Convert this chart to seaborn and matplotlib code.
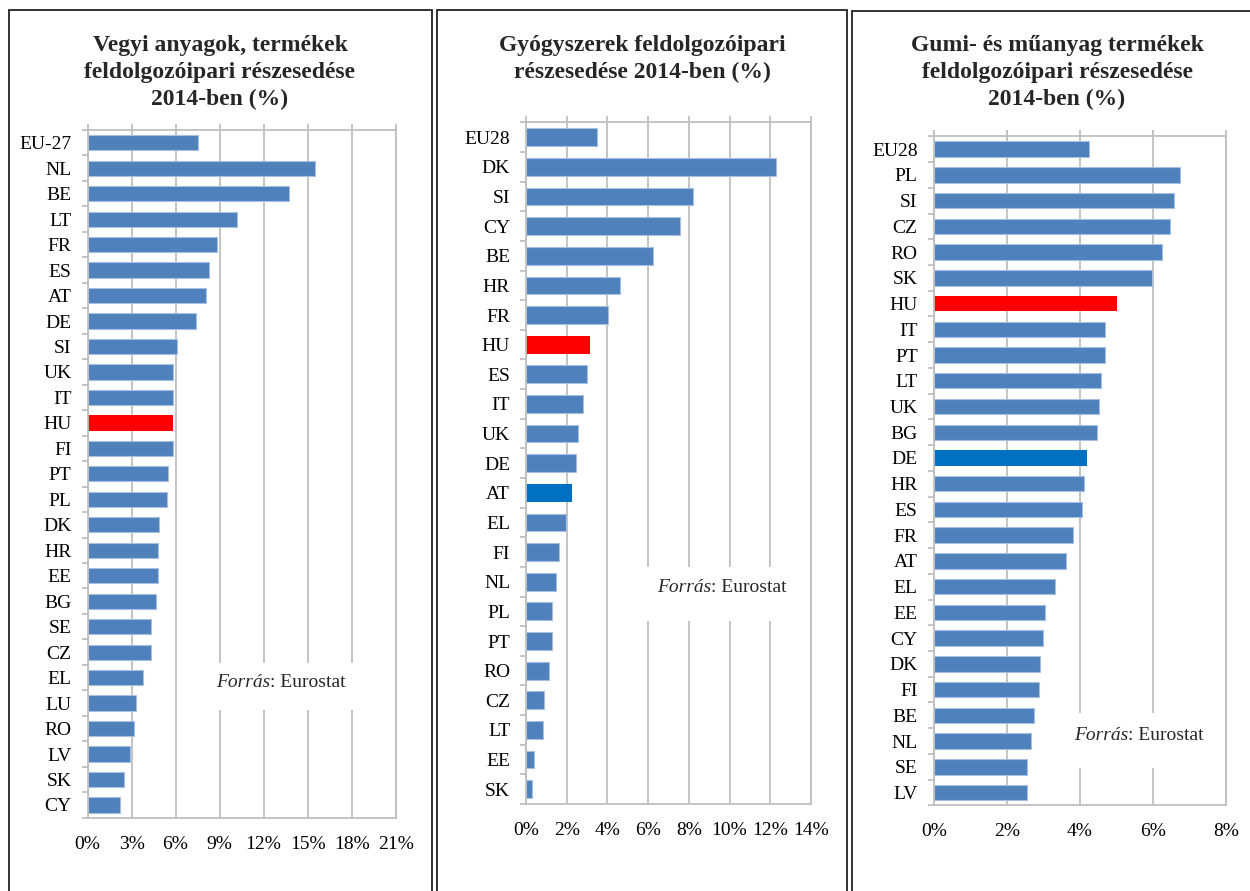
import matplotlib
matplotlib.use("Agg")
import numpy as np
import pandas as pd
import matplotlib.pyplot as plt
import seaborn as sns
from matplotlib.patches import Rectangle
from matplotlib.ticker import FixedLocator, MultipleLocator, FuncFormatter

sns.set_theme(style="white")
plt.rcParams['font.family'] = ['Liberation Serif', 'DejaVu Serif']

# ---------------- data ----------------
chem_countries = ["EU-27", "NL", "BE", "LT", "FR", "ES", "AT", "DE", "SI", "UK", "IT", "HU", "FI",
                  "PT", "PL", "DK", "HR", "EE", "BG", "SE", "CZ", "EL", "LU", "RO", "LV", "SK", "CY"]
chem_values = [7.5, 15.5, 13.7, 10.2, 8.8, 8.3, 8.1, 7.4, 6.1, 5.8, 5.8, 5.8, 5.8,
               5.5, 5.4, 4.9, 4.8, 4.8, 4.7, 4.3, 4.3, 3.8, 3.3, 3.2, 2.9, 2.5, 2.2]

pharma_countries = ["EU28", "DK", "SI", "CY", "BE", "HR", "FR", "HU", "ES", "IT", "UK", "DE",
                    "AT", "EL", "FI", "NL", "PL", "PT", "RO", "CZ", "LT", "EE", "SK"]
pharma_values = [3.47, 12.3, 8.2, 7.55, 6.25, 4.63, 4.01, 3.14, 2.98, 2.82, 2.55, 2.46,
                 2.24, 1.95, 1.64, 1.46, 1.29, 1.27, 1.13, 0.87, 0.82, 0.38, 0.29]

rubber_countries = ["EU28", "PL", "SI", "CZ", "RO", "SK", "HU", "IT", "PT", "LT", "UK", "BG", "DE",
                    "HR", "ES", "FR", "AT", "EL", "EE", "CY", "DK", "FI", "BE", "NL", "SE", "LV"]
rubber_values = [4.26, 6.74, 6.59, 6.47, 6.25, 5.97, 5.02, 4.70, 4.68, 4.57, 4.53, 4.48, 4.20,
                 4.11, 4.06, 3.81, 3.63, 3.32, 3.05, 3.00, 2.90, 2.88, 2.74, 2.66, 2.56, 2.55]

titles = ["Vegyi anyagok, termékek\nfeldolgozóipari részesedése\n2014-ben (%)",
          "Gyógyszerek feldolgozóipari\nrészesedése 2014-ben (%)",
          "Gumi- és műanyag termékek\nfeldolgozóipari részesedése\n2014-ben (%)"]
source_italic = "Forrás"
source_rest = ": Eurostat"

BLUE = "#4F81BD"
RED = "#FF0000"
DARK = "#0070C0"
GRID = "#BFBFBF"

W, H = 1250, 891
fig = plt.figure(figsize=(W / 100, H / 100), dpi=100)
fig.patch.set_facecolor("white")


def fx(px):
    return px / W


def fy(py):
    return 1 - py / H


panels = [
    dict(cats=chem_countries, vals=chem_values, dark=None, xmax=21, step=3,
         ax=(87.5, 130.0, 395.7, 817.7), box=(8.5, 10, 432.3),
         title_x=220, src=(0.417, 0.196), srcbox=(0.36, 0.1566, 0.917, 0.225)),
    dict(cats=pharma_countries, vals=pharma_values, dark="AT", xmax=14, step=2,
         ax=(526.0, 122.4, 811.0, 804.0), box=(437.0, 10, 846.7),
         title_x=642, src=(0.4586, 0.3173), srcbox=(0.35, 0.2685, 0.96, 0.348)),
    dict(cats=rubber_countries, vals=rubber_values, dark="DE", xmax=8, step=2,
         ax=(933.7, 136.3, 1226.0, 805.4), box=(852.0, 11, 1262),
         title_x=1057, src=(0.48, 0.1052), srcbox=(0.40, 0.0559, 0.962, 0.1381)),
]

for i, p in enumerate(panels):
    x0, y0, x1, y1 = p["ax"]
    ax = fig.add_axes([fx(x0), fy(y1), fx(x1 - x0), (y1 - y0) / H])
    df = pd.DataFrame({"country": p["cats"], "value": p["vals"]})
    palette = {c: (RED if c == "HU" else DARK if c == p["dark"] else BLUE) for c in p["cats"]}
    sns.barplot(data=df, x="value", y="country", hue="country", palette=palette,
                legend=False, width=0.6, saturation=1, orient="h", ax=ax, zorder=2)
    for patch, c in zip(ax.patches, p["cats"]):
        if palette[c] == BLUE:
            patch.set_edgecolor("#A7BFDE")
            patch.set_linewidth(0.8)
        else:
            patch.set_linewidth(0)

    n = len(p["cats"])
    ax.set_xlim(0, p["xmax"])
    ax.set_ylim(n - 0.5, -0.5)
    ax.xaxis.set_major_locator(MultipleLocator(p["step"]))
    ax.xaxis.set_major_formatter(FuncFormatter(lambda v, pos: f"{v:.0f}%"))
    ax.set_axisbelow(True)
    ax.grid(axis="x", color=GRID, linewidth=1.3)
    ax.grid(axis="y", visible=False)
    for s in ax.spines.values():
        s.set_visible(True)
        s.set_color(GRID)
        s.set_linewidth(1.3)
    ax.set_xlabel("")
    ax.set_ylabel("")
    ax.tick_params(axis="x", which="major", bottom=False, top=True, labelbottom=True,
                   labeltop=False, length=4, width=1.3, color=GRID, direction="out",
                   pad=9, labelsize=14, labelcolor="black")
    ax.tick_params(axis="y", which="major", left=False, length=0, pad=11.5,
                   labelsize=14, labelcolor="black")
    ax.yaxis.set_minor_locator(FixedLocator(np.arange(-0.5, n, 1.0)))
    ax.tick_params(axis="y", which="minor", left=True, length=4.5, width=1.3,
                   color=GRID, direction="out")

    # source label with white background
    bx0, by0, bx1, by1 = p["srcbox"]
    ax.add_patch(Rectangle((bx0, by0), bx1 - bx0, by1 - by0, transform=ax.transAxes,
                           facecolor="white", edgecolor="none", zorder=1))
    t1 = ax.text(p["src"][0], p["src"][1], source_italic, transform=ax.transAxes,
                 fontsize=14, fontstyle="italic", ha="left", va="center", zorder=3)
    ax.annotate(source_rest, xy=(1, 0.5), xycoords=t1, fontsize=14,
                ha="left", va="center", zorder=3)

    # title
    fig.text(fx(p["title_x"]), fy(35), titles[i], ha="center", va="top",
             fontsize=17, fontweight="bold", linespacing=1.36)

    # outer frame
    lx, ty, rx = p["box"]
    fig.add_artist(Rectangle((fx(lx), -0.1), fx(rx - lx), fy(ty) + 0.1,
                             transform=fig.transFigure, fill=False,
                             edgecolor="#222222", linewidth=1.3))

fig.savefig("out.png", dpi=100, facecolor="white")
